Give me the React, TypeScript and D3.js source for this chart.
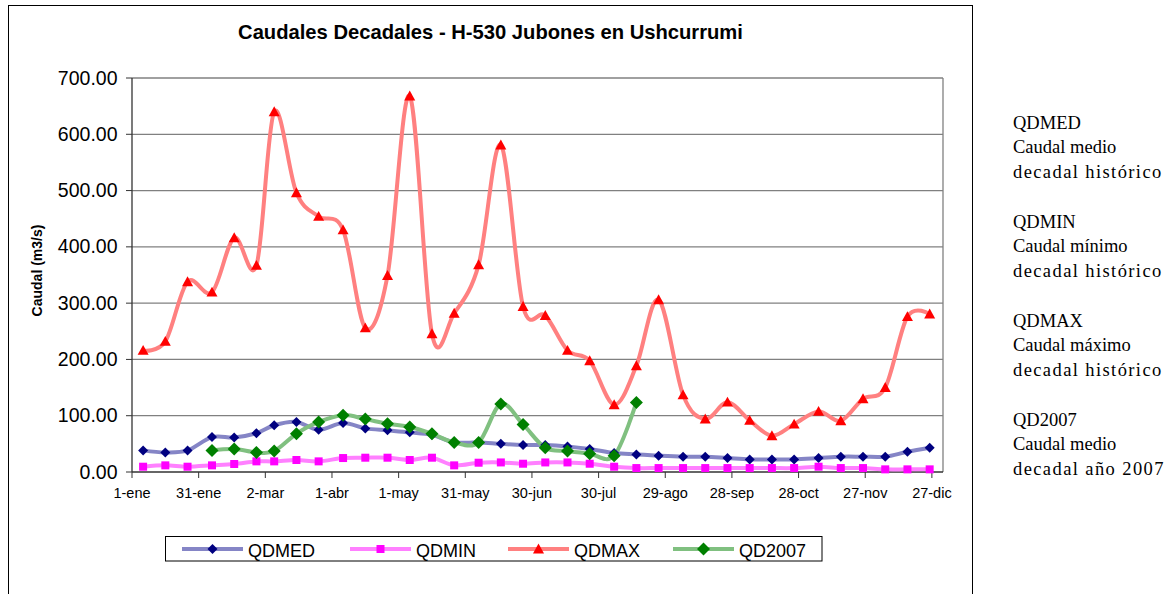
import { useMemo } from "react";
import * as d3 from "d3";

// Chart size and plot bounds (px)
const WIDTH = 1175;
const HEIGHT = 594;
const PLOT = { left: 132, right: 943, top: 78, bottom: 472 };

// Decadal points: 6, 16 and 26 of every month of 2007
const MONTHS = [0, 1, 2, 3, 4, 5, 6, 7, 8, 9, 10, 11];
const DECADE_DAYS = [6, 16, 26];

// Series values (m3/s), one per decade
const QDMED = [38.4, 34.8, 38.4, 62, 61.5, 69, 83, 89, 75, 87, 77.5, 74, 70.4, 66, 52.6, 52.6, 50, 48, 48, 45.5, 40.8, 33.7, 31.3, 29, 27.2, 27.2, 24.8, 22.4, 22.4, 22.4, 24.8, 27.2, 27.2, 27.2, 36, 43];
const QDMIN = [9.4, 11.8, 9.4, 11.8, 14.2, 18.9, 18.9, 21.3, 18.9, 24.8, 25.4, 25.4, 21.3, 25.4, 11.8, 16.5, 17, 14.7, 17, 17, 14.7, 9.4, 7, 7, 7, 7, 7, 7, 7, 7, 9.4, 7, 7, 4.7, 4.7, 4.7];
const QDMAX = [216, 232, 338, 319.5, 416, 367, 640, 496, 454, 430, 256, 349, 668, 245.5, 282, 368, 581, 294, 278, 216, 197.6, 119.5, 188.7, 306, 137, 94, 124, 91.6, 64.4, 85, 107.6, 91, 130, 150, 276, 280.5];
const QD2007 = [null, null, null, 38.4, 40.8, 34.8, 37.3, 68, 89, 101, 94, 85.7, 80, 68, 52.6, 52.6, 121, 84.5, 43, 37.3, 32.5, 29, 123.5, null, null, null, null, null, null, null, null, null, null, null, null, null];

// Axis ticks
const X_TICK_LABELS = ["1-ene", "31-ene", "2-mar", "1-abr", "1-may", "31-may", "30-jun", "30-jul", "29-ago", "28-sep", "28-oct", "27-nov", "27-dic"];
const Y_TICKS = [0, 100, 200, 300, 400, 500, 600, 700];

type Marker = "diamond" | "square" | "triangle";
type Series = { name: string; values: (number | null)[]; line: string; fill: string; marker: Marker; size: number };

const SERIES: Series[] = [
  { name: "QDMED", values: QDMED, line: "#8585c6", fill: "#000080", marker: "diamond", size: 5 },
  { name: "QDMIN", values: QDMIN, line: "#ff80ff", fill: "#ff00ff", marker: "square", size: 4 },
  { name: "QDMAX", values: QDMAX, line: "#ff8080", fill: "#ff0000", marker: "triangle", size: 5.5 },
  { name: "QD2007", values: QD2007, line: "#80c080", fill: "#008000", marker: "diamond", size: 6.5 },
];

// Notes on the right hand side
const NOTES = [
  ["QDMED", "Caudal medio", "decadal histórico"],
  ["QDMIN", "Caudal mínimo", "decadal histórico"],
  ["QDMAX", "Caudal máximo", "decadal histórico"],
  ["QD2007", "Caudal medio", "decadal año 2007"],
];

const LEGEND_X = [182, 350, 508, 673];

const markerPath = (m: Marker, s: number) => {
  if (m === "diamond") return `M0,${-s}L${s},0L0,${s}L${-s},0Z`;
  if (m === "square") return `M${-s},${-s}H${s}V${s}H${-s}Z`;
  return `M0,${-s}L${s},${s * 0.8}L${-s},${s * 0.8}Z`;
};

const App = () => {
  const dates = useMemo(() => MONTHS.flatMap((m) => DECADE_DAYS.map((d) => new Date(2007, m, d))), []);

  const xScale = d3.scaleTime().domain([new Date(2007, 0, 1), new Date(2008, 0, 1)]).range([PLOT.left, PLOT.right]);
  const yScale = d3.scaleLinear().domain([0, 700]).range([PLOT.bottom, PLOT.top]);

  const xTicks = X_TICK_LABELS.map((label, i) => ({ label, x: xScale(d3.timeDay.offset(new Date(2007, 0, 1), 30 * i)) }));

  const lineGen = d3
    .line<number | null>()
    .defined((d) => d !== null)
    .x((_, i) => xScale(dates[i]))
    .y((d) => yScale(d as number))
    .curve(d3.curveCardinal.tension(0));

  const font = "'Liberation Sans', Arial, sans-serif";

  return (
    <svg width={WIDTH} height={HEIGHT} style={{ position: "absolute", left: 0, top: 0 }} fontFamily={font}>
      <rect width={WIDTH} height={HEIGHT} fill="white" />
      {/* chart area border */}
      <rect x={8.5} y={5.5} width={964} height={620} fill="white" stroke="#000" strokeWidth={1} />

      <text x={490.5} y={38.5} textAnchor="middle" fontWeight="bold" fontSize={20.2}>
        Caudales Decadales - H-530 Jubones en Ushcurrumi
      </text>

      {/* gridlines + y axis */}
      {Y_TICKS.map((t) => (
        <g key={t}>
          {t > 0 && <line x1={PLOT.left} x2={PLOT.right} y1={yScale(t)} y2={yScale(t)} stroke="#808080" strokeWidth={1.3} />}
          <line x1={PLOT.left - 6} x2={PLOT.left} y1={yScale(t)} y2={yScale(t)} stroke="#333" />
          <text x={117.5} y={yScale(t) + 6.5} textAnchor="end" fontSize={19.5}>
            {d3.format(".2f")(t)}
          </text>
        </g>
      ))}
      <line x1={PLOT.right} x2={PLOT.right} y1={PLOT.top} y2={PLOT.bottom} stroke="#808080" strokeWidth={1.3} />
      <line x1={PLOT.left} x2={PLOT.left} y1={PLOT.top} y2={PLOT.bottom} stroke="#333" strokeWidth={1.3} />
      <text transform={`translate(42,270.5) rotate(-90)`} textAnchor="middle" fontWeight="bold" fontSize={14}>
        Caudal (m3/s)
      </text>

      {/* x axis */}
      <line x1={PLOT.left} x2={PLOT.right} y1={PLOT.bottom} y2={PLOT.bottom} stroke="#333" strokeWidth={1.3} />
      {xTicks.map(({ label, x }) => (
        <g key={label} transform={`translate(${x},0)`}>
          <line y1={PLOT.bottom} y2={PLOT.bottom + 6} stroke="#333" />
          <text y={497.5} textAnchor="middle" fontSize={14.5}>
            {label}
          </text>
        </g>
      ))}

      {/* series lines */}
      {SERIES.map((s) => (
        <path key={s.name} d={lineGen(s.values) || undefined} fill="none" stroke={s.line} strokeWidth={4} strokeLinejoin="round" />
      ))}
      {/* markers */}
      {SERIES.map((s) => (
        <g key={s.name} fill={s.fill}>
          {s.values.map((v, i) =>
            v === null ? null : (
              <path key={i} d={markerPath(s.marker, s.size)} transform={`translate(${xScale(dates[i])},${yScale(v)})`} />
            )
          )}
        </g>
      ))}

      {/* legend */}
      <rect x={165.5} y={536.5} width={656.5} height={24.5} fill="white" stroke="#000" />
      {SERIES.map((s, i) => (
        <g key={s.name} transform={`translate(${LEGEND_X[i]},549)`}>
          <line x1={0} x2={61} stroke={s.line} strokeWidth={4} />
          <path d={markerPath(s.marker, s.size)} transform="translate(30.5,0)" fill={s.fill} />
          <text x={66} y={7.5} fontSize={18}>
            {s.name}
          </text>
        </g>
      ))}

      {/* notes */}
      <g fontFamily="'Liberation Serif', 'Times New Roman', serif" fontSize={18.5}>
        {NOTES.map((lines, bi) =>
          lines.map((l, li) => (
            <text key={`${bi}-${li}`} x={1013} y={128.5 + bi * 99 + li * 24.7} letterSpacing={li === 2 ? 1.4 : 0}>
              {l}
            </text>
          ))
        )}
      </g>
    </svg>
  );
};

export default App;
